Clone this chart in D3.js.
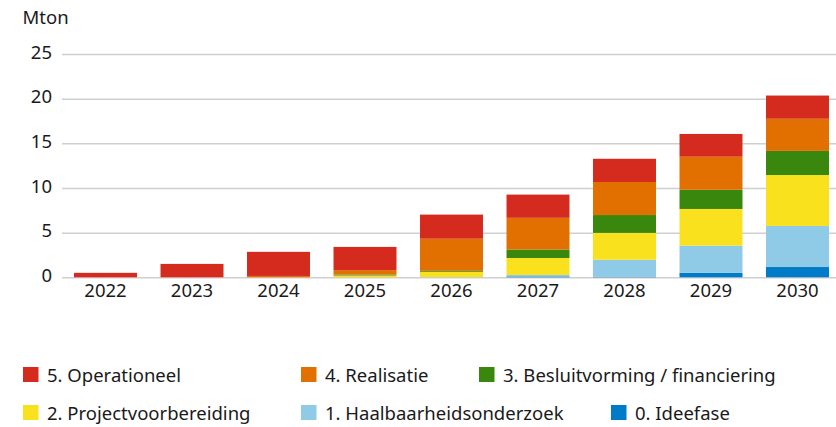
<!DOCTYPE html>
<html><head><meta charset="utf-8">
<script src="https://cdn.jsdelivr.net/npm/d3@7"></script>
<style>
body{margin:0;background:#fff;}
svg{display:block;font-family:"Noto Sans","Open Sans",sans-serif;}
</style></head>
<body><svg id="c" width="836" height="427"></svg>
<script>
const years = ["2022","2023","2024","2025","2026","2027","2028","2029","2030"];
const seriesNames = ["0. Ideefase","1. Haalbaarheidsonderzoek","2. Projectvoorbereiding","3. Besluitvorming / financiering","4. Realisatie","5. Operationeel"];
const ideefase      = [0,0,0,0,0,0.1,0.07,0.5,1.15];
const haalbaarheid  = [0,0,0,0,0.02,0.16,1.9,3.05,4.6];
const project       = [0,0,0,0.2,0.6,1.9,3.0,4.1,5.7];
const besluit       = [0,0,0,0.1,0.1,0.95,2.0,2.15,2.7];
const realisatie    = [0,0,0.15,0.5,3.6,3.55,3.7,3.7,3.6];
const operationeel  = [0.5,1.5,2.7,2.6,2.7,2.6,2.6,2.55,2.6];
const yTicks = [0,5,10,15,20,25];
const colors = ["#007bc7","#8fcae7","#f9e11e","#39870c","#e17000","#d52b1e"];
const legendOrder = [5,4,3,2,1,0];

const seriesVals = [ideefase,haalbaarheid,project,besluit,realisatie,operationeel];
const table = years.map((y,i)=>{const o={year:y}; seriesNames.forEach((n,k)=>o[n]=seriesVals[k][i]); return o;});
const stack = d3.stack().keys(seriesNames)(table);

const FS = 18.5;
const TXT = "#1a1a1a";
const svg = d3.select("#c");
const x = d3.scaleBand().domain(years).range([62.25,840.75]).paddingInner(0.272).paddingOuter(0.136);
const y = d3.scaleLinear().domain([0,25]).range([277.3,54]);

// grid
const yAxis = svg.append("g").attr("transform","translate(62,0)")
  .call(d3.axisLeft(y).tickValues(yTicks).tickSize(-774).tickPadding(10));
yAxis.select(".domain").remove();
yAxis.selectAll(".tick line").attr("stroke","#cfcfcf").attr("stroke-width",1.5);
yAxis.selectAll(".tick text").attr("font-size",FS).attr("fill",TXT)
  .attr("font-family","Noto Sans, Open Sans, sans-serif").attr("dy","0.22em");

// bars
svg.append("g").selectAll("g").data(stack).join("g")
  .attr("fill",(d,i)=>colors[i])
  .selectAll("rect").data(d=>d).join("rect")
  .attr("x",d=>x(d.data.year)).attr("width",x.bandwidth())
  .attr("y",d=>y(d[1])).attr("height",d=>Math.max(0,y(d[0])-y(d[1])));

// x axis
const xAxis = svg.append("g").attr("transform","translate(0,277.3)")
  .call(d3.axisBottom(x).tickSize(0));
xAxis.select(".domain").remove();
xAxis.selectAll(".tick text").attr("font-size",FS).attr("fill",TXT)
  .attr("font-family","Noto Sans, Open Sans, sans-serif").attr("y",19.4).attr("dy",0);

svg.append("text").attr("x",22.5).attr("y",24.3).attr("font-size",FS).attr("fill",TXT).text("Mton");

// legend (flowing rows)
const rowY = [367,405];
const rowStarts = [[23,301,479],[23,301,611]];
const lg = svg.append("g");
legendOrder.forEach((k,j)=>{
  const r = Math.floor(j/3), c = j%3;
  const cx = rowStarts[r][c], cy = rowY[r];
  lg.append("rect").attr("x",cx).attr("y",cy).attr("width",15.5).attr("height",15).attr("fill",colors[k]);
  lg.append("text").attr("x",cx+24).attr("y",cy+14.5).attr("font-size",FS).attr("fill",TXT).text(seriesNames[k]);
});
</script></body></html>
